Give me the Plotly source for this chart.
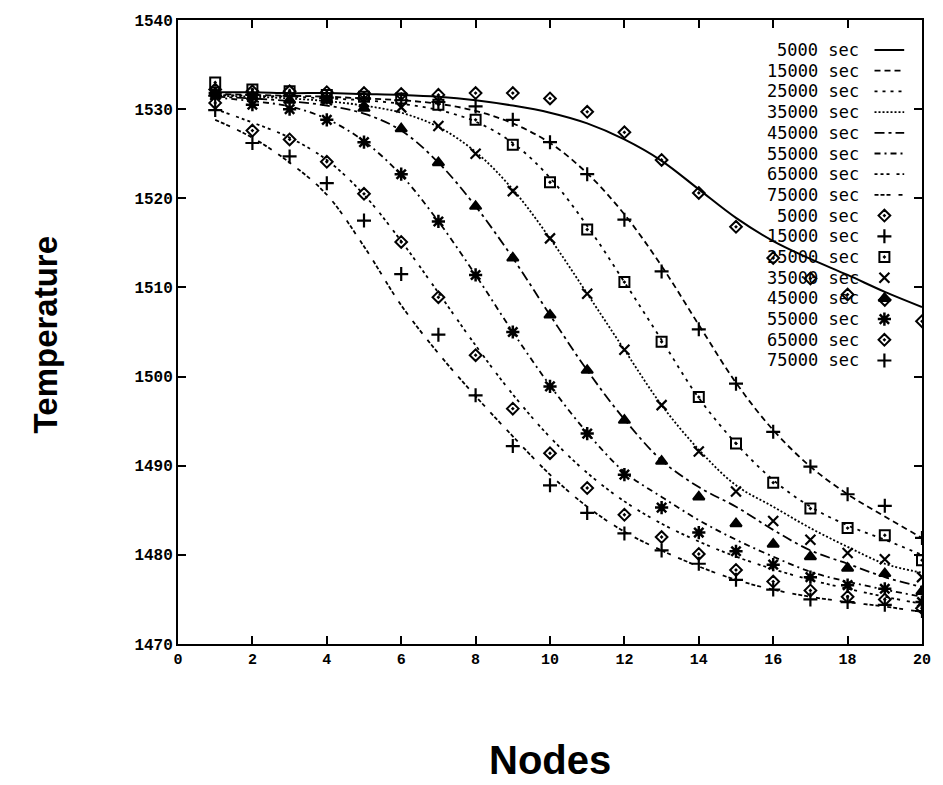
import plotly.graph_objects as go

nodes = list(range(1, 21))
labels = ["5000 sec", "15000 sec", "25000 sec", "35000 sec",
          "45000 sec", "55000 sec", "65000 sec", "75000 sec"]

# computed (line) series
line_5000 = [1531.9, 1531.9, 1531.8, 1531.8, 1531.7, 1531.6, 1531.4, 1531.0, 1530.4, 1529.6,
             1528.4, 1526.6, 1524.2, 1521.0, 1517.8, 1515.2, 1513.2, 1511.4, 1509.5, 1507.8]
line_15000 = [1531.7, 1531.6, 1531.5, 1531.4, 1531.2, 1531.0, 1530.6, 1529.8, 1528.4, 1526.2,
              1522.8, 1518.2, 1512.4, 1505.8, 1499.3, 1494.0, 1489.9, 1486.8, 1484.3, 1481.9]
line_25000 = [1531.6, 1531.5, 1531.4, 1531.2, 1531.0, 1530.6, 1529.9, 1528.6, 1526.2, 1522.3,
              1516.9, 1510.6, 1504.1, 1497.6, 1492.5, 1488.4, 1485.4, 1483.3, 1481.7, 1480.0]
line_35000 = [1531.5, 1531.4, 1531.2, 1530.9, 1530.4, 1529.6, 1528.0, 1525.2, 1521.0, 1515.5,
              1509.3, 1503.0, 1496.8, 1491.8, 1487.8, 1485.4, 1483.0, 1480.9, 1479.0, 1478.0]
line_45000 = [1531.4, 1531.2, 1530.9, 1530.4, 1529.5, 1527.6, 1524.0, 1519.1, 1513.3, 1506.9,
              1500.7, 1495.2, 1490.6, 1487.6, 1485.4, 1482.8, 1480.5, 1479.0, 1477.5, 1476.4]
line_55000 = [1531.3, 1530.9, 1530.3, 1528.9, 1526.4, 1522.6, 1517.4, 1511.4, 1505.0, 1499.0,
              1493.7, 1489.3, 1486.5, 1483.9, 1481.7, 1479.8, 1478.1, 1477.0, 1476.1, 1475.3]
line_65000 = [1530.0, 1528.5, 1526.8, 1524.3, 1520.4, 1515.2, 1509.4, 1503.5, 1498.0, 1493.2,
              1489.2, 1486.0, 1483.5, 1481.5, 1479.8, 1478.4, 1477.2, 1476.2, 1475.3, 1474.5]
line_75000 = [1528.8, 1526.8, 1524.0, 1520.4, 1514.6, 1508.0, 1502.6, 1497.8, 1493.3, 1489.0,
              1485.4, 1482.6, 1480.5, 1478.7, 1477.2, 1476.1, 1475.3, 1474.7, 1474.2, 1473.6]

# measured (point) series
pts_5000 = [1532.2, 1532.0, 1532.0, 1531.9, 1531.8, 1531.7, 1531.6, 1531.8, 1531.8, 1531.2,
            1529.7, 1527.4, 1524.3, 1520.6, 1516.8, 1513.3, 1511.0, 1509.2, 1508.6, 1506.2]
pts_15000 = [1531.5, 1531.6, 1531.5, 1531.3, 1531.2, 1531.0, 1530.8, 1530.3, 1528.8, 1526.3,
             1522.7, 1517.6, 1511.8, 1505.3, 1499.2, 1493.8, 1489.9, 1486.8, 1485.5, 1481.9]
pts_25000 = [1533.0, 1532.2, 1532.0, 1531.6, 1531.4, 1531.2, 1530.5, 1528.8, 1526.0, 1521.8,
             1516.5, 1510.6, 1503.9, 1497.7, 1492.5, 1488.1, 1485.2, 1483.0, 1482.2, 1479.4]
pts_35000 = [1531.6, 1531.4, 1531.2, 1531.0, 1530.8, 1530.2, 1528.1, 1525.0, 1520.8, 1515.5,
             1509.3, 1503.0, 1496.8, 1491.6, 1487.1, 1483.8, 1481.7, 1480.2, 1479.5, 1477.5]
pts_45000 = [1531.8, 1531.4, 1531.0, 1531.0, 1530.1, 1527.8, 1524.0, 1519.1, 1513.3, 1506.9,
             1500.7, 1495.1, 1490.5, 1486.5, 1483.5, 1481.2, 1479.8, 1478.5, 1477.9, 1475.9]
pts_55000 = [1531.8, 1530.5, 1530.0, 1528.8, 1526.3, 1522.7, 1517.4, 1511.4, 1505.0, 1498.9,
             1493.6, 1489.0, 1485.3, 1482.5, 1480.4, 1478.9, 1477.5, 1476.6, 1476.2, 1474.7]
pts_65000 = [1530.7, 1527.6, 1526.6, 1524.1, 1520.5, 1515.1, 1508.9, 1502.4, 1496.4, 1491.4,
             1487.5, 1484.5, 1482.0, 1480.1, 1478.3, 1477.0, 1476.0, 1475.3, 1475.0, 1474.0]
pts_75000 = [1529.9, 1526.2, 1524.7, 1521.7, 1517.5, 1511.5, 1504.7, 1497.9, 1492.2, 1487.8,
             1484.7, 1482.4, 1480.5, 1479.0, 1477.2, 1476.1, 1475.0, 1474.7, 1474.4, 1473.7]

x_ticks = list(range(0, 21, 2))
y_ticks = list(range(1470, 1541, 10))

lines = [line_5000, line_15000, line_25000, line_35000,
         line_45000, line_55000, line_65000, line_75000]
points = [pts_5000, pts_15000, pts_25000, pts_35000,
          pts_45000, pts_55000, pts_65000, pts_75000]

dashes = ["solid", "6px,4px", "3px,5px", "2px,2px",
          "10px,4px,3px,4px", "6px,4px,2px,4px", "3px,3px,3px,3px,3px,7px", "4px,2px,4px,2px,4px,8px"]
symbols = ["diamond-open-dot", "cross-thin-open", "square-open-dot", "x-thin-open",
           "triangle-up", "asterisk-open", "diamond-open-dot", "cross-thin-open"]
msizes = [9, 10, 10, 10, 10, 11, 9, 10]
mwidths = [2, 2.2, 2, 2.2, 2, 2.5, 2, 2.2]

fig = go.Figure()
for vals, d in zip(lines, dashes):
    fig.add_trace(go.Scatter(x=nodes, y=vals, mode="lines", line_shape="spline",
                             line=dict(color="black", width=2 if d == "solid" else 1.8, dash=d),
                             showlegend=False, hoverinfo="skip"))
for vals, s, ms, mw in zip(points, symbols, msizes, mwidths):
    fig.add_trace(go.Scatter(x=nodes, y=vals, mode="markers",
                             marker=dict(symbol=s, size=ms, color="black",
                                         line=dict(color="black", width=mw)),
                             showlegend=False))

# gnuplot-style key: text on the left, sample on the right
L, R, T, B = 178, 930, 20, 644
W, H = R - L, B - T
row0, row_dy = 50, 20.7
text_x = (868 - L) / W
samp_x0, samp_x1, mark_x = (882 - L) / W, (912 - L) / W, (892 - L) / W
annotations = []
all_rows = [("line", i) for i in range(8)] + [("pts", i) for i in range(8)]
for k, (kind, i) in enumerate(all_rows):
    yf = 1 - (row0 + k * row_dy - T) / H
    annotations.append(dict(text=labels[i], xref="paper", yref="paper", x=text_x, y=yf,
                            xanchor="right", yanchor="middle", showarrow=False,
                            font=dict(family="DejaVu Sans Mono", size=17, color="black")))
    if kind == "line":
        fig.add_trace(go.Scatter(x=[samp_x0, samp_x1], y=[yf, yf], mode="lines",
                                 xaxis="x2", yaxis="y2",
                                 line=dict(color="black", width=2 if dashes[i] == "solid" else 1.8,
                                           dash=dashes[i]),
                                 showlegend=False, hoverinfo="skip"))
    else:
        fig.add_trace(go.Scatter(x=[mark_x], y=[yf], mode="markers", xaxis="x2", yaxis="y2",
                                 marker=dict(symbol=symbols[i], size=msizes[i], color="black",
                                             line=dict(color="black", width=mwidths[i])),
                                 showlegend=False, hoverinfo="skip"))

annotations.append(dict(text="Nodes", xref="paper", yref="paper", x=0.5, y=-(760 - B) / H,
                        xanchor="center", yanchor="middle", showarrow=False,
                        font=dict(family="Liberation Sans Narrow, Liberation Sans", size=40,
                                  color="black", weight="bold")))
annotations.append(dict(text="Temperature", xref="paper", yref="paper", x=-(L - 44) / W,
                        y=1 - (335 - T) / H, xanchor="center", yanchor="middle",
                        textangle=-90, showarrow=False,
                        font=dict(family="Liberation Sans", size=33, color="black", weight="bold")))

axis_common = dict(showgrid=False, zeroline=False, showline=True, linecolor="black",
                   linewidth=2, mirror="ticks", ticks="inside", ticklen=8, tickwidth=1.5,
                   tickcolor="black")
fig.update_layout(
    width=943, height=785,
    margin=dict(l=L, r=943 - R, t=T, b=785 - B),
    plot_bgcolor="white", paper_bgcolor="white",
    xaxis=dict(range=[0, 20], tickvals=x_ticks, ticktext=[str(v) for v in x_ticks],
               tickfont=dict(family="Liberation Mono", size=15, color="black", weight="bold"),
               **axis_common),
    yaxis=dict(range=[1470, 1540], tickvals=y_ticks, ticktext=[str(v) for v in y_ticks],
               tickfont=dict(family="Liberation Mono", size=16, color="black", weight="bold"),
               **axis_common),
    xaxis2=dict(overlaying="x", range=[0, 1], visible=False, fixedrange=True),
    yaxis2=dict(overlaying="y", range=[0, 1], visible=False, fixedrange=True),
    annotations=annotations,
    showlegend=False,
)
fig.write_html("out.html", config={"displayModeBar": False},
               post_script="document.body.style.margin='0';document.body.style.padding='0';"
                           "document.body.style.overflow='hidden';")
